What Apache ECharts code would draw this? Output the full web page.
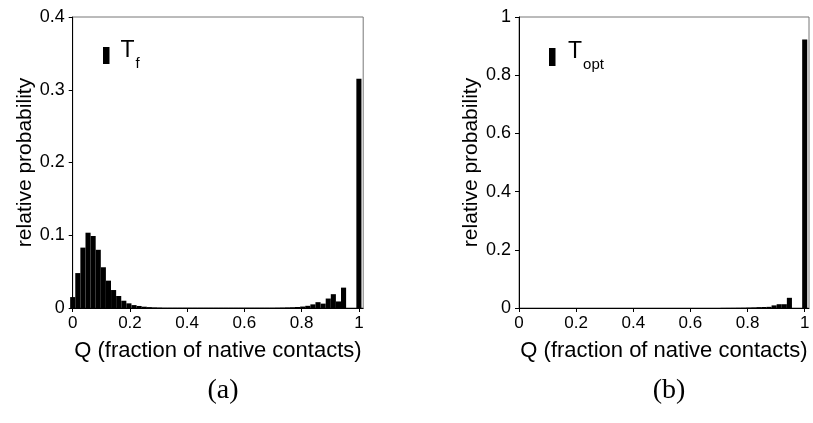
<!DOCTYPE html>
<html>
<head>
<meta charset="utf-8">
<script src="https://cdn.jsdelivr.net/npm/echarts@6/dist/echarts.min.js"></script>
<style>
html,body{margin:0;padding:0;background:#fff;}
#chart{width:813px;height:423px;}
</style>
</head>
<body>
<div id="chart"></div>
<script>
// Bin centres (fraction of native contacts)
var binCentres = [0, 0.0179, 0.0357, 0.0536, 0.0714, 0.0893, 0.1071, 0.125, 0.1429, 0.1607,
  0.1786, 0.1964, 0.2143, 0.2321, 0.25, 0.2679, 0.2857, 0.3036, 0.3214, 0.3393,
  0.3571, 0.375, 0.3929, 0.4107, 0.4286, 0.4464, 0.4643, 0.4821, 0.5, 0.5179,
  0.5357, 0.5536, 0.5714, 0.5893, 0.6071, 0.625, 0.6429, 0.6607, 0.6786, 0.6964,
  0.7143, 0.7321, 0.75, 0.7679, 0.7857, 0.8036, 0.8214, 0.8393, 0.8571, 0.875,
  0.8929, 0.9107, 0.9286, 0.9464, 0.9643, 0.9821, 1];

// Panel (a): T_f
var probTf = [0.015, 0.048, 0.083, 0.1035, 0.099, 0.080, 0.056, 0.0376, 0.0247, 0.0165,
  0.010, 0.0064, 0.004, 0.0028, 0.0018, 0.0012, 0.0008, 0.0006, 0.0004, 0.0004,
  0.0004, 0.0004, 0.0004, 0.0004, 0.0004, 0.0004, 0.0004, 0.0004, 0.0004, 0.0004,
  0.0004, 0.0004, 0.0004, 0.0004, 0.0004, 0.0004, 0.0004, 0.0004, 0.0004, 0.0004,
  0.0005, 0.0006, 0.0008, 0.001, 0.0014, 0.002, 0.003, 0.005, 0.008, 0.006,
  0.013, 0.019, 0.009, 0.028, 0, 0, 0.315];

// Panel (b): T_opt
var probTopt = [0, 0, 0, 0, 0, 0, 0, 0, 0, 0,
  0, 0, 0, 0, 0, 0, 0, 0, 0, 0,
  0, 0, 0, 0, 0, 0, 0, 0, 0, 0,
  0, 0, 0, 0, 0, 0, 0, 0, 0, 0,
  0.0004, 0.0005, 0.0006, 0.0008, 0.001, 0.0015, 0.002, 0.003, 0.0035, 0.004,
  0.009, 0.013, 0.013, 0.035, 0, 0, 0.923];

var xTicks = [0, 0.2, 0.4, 0.6, 0.8, 1];
var yTicksA = [0, 0.1, 0.2, 0.3, 0.4];
var yTicksB = [0, 0.2, 0.4, 0.6, 0.8, 1];
var seriesNames = ['Tf', 'Topt'];
var legendSubs = ['f', 'opt'];
var xTitle = 'Q (fraction of native contacts)';
var yTitle = 'relative probability';
var panelLabels = ['(a)', '(b)'];

var FONT = '"Liberation Sans", Arial, sans-serif';
var SERIF = '"Liberation Serif", "DejaVu Serif", serif';

function pairs(xs, ys) { return xs.map(function (x, i) { return [x, ys[i]]; }); }

function xAxis(gi) {
  return {
    type: 'value', gridIndex: gi, min: 0, max: 1.015,
    name: xTitle, nameLocation: 'middle', nameGap: 32,
    nameTextStyle: {fontFamily: FONT, fontSize: 22, color: '#000'},
    axisLine: {show: true, lineStyle: {color: '#000', width: 1}},
    axisTick: {show: true, inside: false, length: 4, customValues: xTicks, lineStyle: {color: '#000'}},
    axisLabel: {customValues: xTicks, fontFamily: FONT, fontSize: 17, color: '#000', margin: 7,
      formatter: function (v) { return String(+v.toFixed(1)); }},
    splitLine: {show: false}
  };
}
function yAxis(gi, max, interval) {
  return {
    type: 'value', gridIndex: gi, min: 0, max: max, interval: interval,
    name: yTitle, nameLocation: 'middle', nameGap: 29, nameRotate: 90,
    nameTextStyle: {fontFamily: FONT, fontSize: 21, color: '#000'},
    axisLine: {show: true, lineStyle: {color: '#000', width: 1}},
    axisTick: {show: true, inside: false, length: 4, lineStyle: {color: '#000'}},
    axisLabel: {fontFamily: FONT, fontSize: 18, color: '#000', margin: 8,
      formatter: function (v) { return String(+v.toFixed(1)); }},
    splitLine: {show: false}
  };
}

function legendRich(padLeft) {
  return {
    t: {fontFamily: FONT, fontSize: 23, color: '#000', padding: [0, 0, 10, padLeft]},
    s: {fontFamily: FONT, fontSize: 15, color: '#000', padding: [16, 0, 0, 1]}
  };
}

var option = {
  backgroundColor: '#fff',
  animation: false,
  grid: [
    {left: 72.7, top: 17, width: 290.5, height: 291, show: true, borderColor: '#777', borderWidth: 1, backgroundColor: 'transparent'},
    {left: 519, top: 17, width: 290, height: 291, show: true, borderColor: '#777', borderWidth: 1, backgroundColor: 'transparent'}
  ],
  title: [
    {text: panelLabels[0], left: 218, top: 372, textAlign: 'center',
      textStyle: {fontFamily: SERIF, fontSize: 28, fontWeight: 'normal', color: '#000'}},
    {text: panelLabels[1], left: 664, top: 372, textAlign: 'center',
      textStyle: {fontFamily: SERIF, fontSize: 28, fontWeight: 'normal', color: '#000'}}
  ],
  legend: [
    {data: [seriesNames[0]], left: 103, top: 39, padding: 0, icon: 'rect', itemWidth: 6.5, itemHeight: 17,
      formatter: function () { return '{t|T}{s|' + legendSubs[0] + '}'; },
      textStyle: {rich: legendRich(6)}},
    {data: [seriesNames[1]], left: 549, top: 40.5, padding: 0, icon: 'rect', itemWidth: 6.5, itemHeight: 18,
      formatter: function () { return '{t|T}{s|' + legendSubs[1] + '}'; },
      textStyle: {rich: legendRich(7.5)}}
  ],
  xAxis: [xAxis(0), xAxis(1)],
  yAxis: [yAxis(0, 0.4, 0.1), yAxis(1, 1, 0.2)],
  series: [
    {name: seriesNames[0], type: 'bar', xAxisIndex: 0, yAxisIndex: 0, barWidth: '100%', clip: true,
      itemStyle: {color: '#000'}, data: pairs(binCentres, probTf)},
    {name: seriesNames[1], type: 'bar', xAxisIndex: 1, yAxisIndex: 1, barWidth: '100%', clip: true,
      itemStyle: {color: '#000'}, data: pairs(binCentres, probTopt)}
  ]
};

var chart = echarts.init(document.getElementById('chart'), null, {renderer: 'canvas'});
chart.setOption(option);
</script>
</body>
</html>
